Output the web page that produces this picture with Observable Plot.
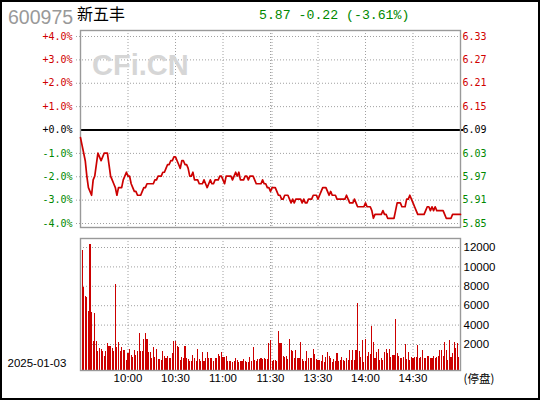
<!DOCTYPE html>
<html><head><meta charset="utf-8">
<script src="https://cdn.jsdelivr.net/npm/d3@7"></script>
<script src="https://cdn.jsdelivr.net/npm/@observablehq/plot@0.6"></script>
<style>
html,body{margin:0;padding:0;background:#fff;}
#wrap{position:relative;width:540px;height:400px;overflow:hidden;background:#fff;}
#wrap svg{position:absolute;left:0;background:transparent;}
.abs{position:absolute;white-space:nowrap;line-height:1;}
#border{position:absolute;left:0;top:0;width:540px;height:400px;box-sizing:border-box;border:2px solid #000;}
</style></head><body>
<div id="wrap"></div>
<script>
// ---------- data ----------
const stockCode = "600975";
const stockName = "新五丰";
const quoteText = "5.87 -0.22 (-3.61%)";
const tradeDate = "2025-01-03";
const statusText = "(停盘)";
const watermark = "CFi.CN";
const prevClose = 6.09;

const pctTicks = [4, 3, 2, 1, 0, -1, -2, -3, -4];
const pctLabels = ["+4.0%", "+3.0%", "+2.0%", "+1.0%", "+0.0%", "-1.0%", "-2.0%", "-3.0%", "-4.0%"];
const priceLabels = ["6.33", "6.27", "6.21", "6.15", "6.09", "6.03", "5.97", "5.91", "5.85"];

const timeTicks = [30, 60, 90, 120, 150, 180, 210];
const timeLabels = ["10:00", "10:30", "11:00", "11:30", "13:30", "14:00", "14:30"];

const volTicks = [2000, 4000, 6000, 8000, 10000, 12000];
const volLabels = ["2000", "4000", "6000", "8000", "10000", "12000"];

// minute prices, 9:30 .. 11:30, 13:01 .. 15:00
const price = [
6.07,6.05,6.03,6.01,5.97,5.94,5.93,5.92,5.96,5.97,
6.00,6.03,6.02,6.01,6.02,6.03,6.03,6.03,6.00,5.97,
5.96,5.95,5.94,5.92,5.94,5.94,5.94,5.96,5.97,5.98,
5.97,5.97,5.95,5.94,5.93,5.93,5.92,5.92,5.92,5.93,
5.94,5.94,5.95,5.95,5.95,5.95,5.95,5.96,5.96,5.97,
5.97,5.97,5.98,5.98,5.99,6.00,6.00,6.01,6.01,6.02,
6.02,6.01,6.00,5.99,6.01,6.01,6.00,6.00,5.99,5.97,
5.97,5.98,5.96,5.96,5.96,5.95,5.95,5.95,5.96,5.95,
5.94,5.95,5.96,5.95,5.95,5.96,5.96,5.96,5.97,5.97,
5.96,5.95,5.97,5.97,5.97,5.97,5.96,5.97,5.98,5.97,
5.98,5.96,5.96,5.96,5.97,5.97,5.96,5.97,5.97,5.97,
5.96,5.95,5.95,5.95,5.95,5.96,5.95,5.95,5.94,5.94,
5.93,
5.94,5.94,5.94,5.93,5.92,5.92,5.91,5.91,5.92,5.92,
5.92,5.91,5.90,5.91,5.90,5.91,5.91,5.91,5.91,5.90,
5.91,5.90,5.90,5.91,5.91,5.91,5.92,5.92,5.92,5.91,
5.92,5.93,5.94,5.94,5.94,5.93,5.92,5.93,5.92,5.92,
5.92,5.91,5.91,5.91,5.91,5.91,5.91,5.92,5.91,5.90,
5.90,5.90,5.91,5.90,5.89,5.89,5.89,5.89,5.89,5.90,
5.89,5.89,5.89,5.88,5.86,5.87,5.87,5.87,5.87,5.87,
5.88,5.87,5.87,5.86,5.86,5.86,5.86,5.86,5.88,5.90,
5.90,5.90,5.89,5.89,5.89,5.91,5.91,5.92,5.91,5.90,
5.89,5.88,5.87,5.87,5.87,5.87,5.87,5.88,5.89,5.89,
5.88,5.89,5.88,5.89,5.88,5.88,5.88,5.88,5.88,5.87,
5.86,5.86,5.86,5.86,5.87,5.87,5.87,5.87,5.87,5.87
];

const volumeAM = [
1650,11660,7870,6900,6830,5450,12280,5350,2350,5240,
2350,1240,1550,1480,1310,790,1310,2070,1830,1830,
1590,1240,8140,1730,2240,1310,1730,1410,1410,300,
1030,1480,900,620,1380,900,1310,3170,1240,1240,
2550,3170,2550,1200,1200,590,1660,690,1480,410,
410,345,1310,760,520,720,590,550,1070,2350,
2350,1800,1700,300,690,520,1790,550,450,250,
280,830,520,250,1520,480,250,1200,280,550,
1140,550,550,550,280,550,550,960,760,1140,
690,690,790,200,280,210,150,200,550,345,
150,210,200,450,200,150,150,690,200,1650,
345,200,450,410,550,450,550,450,450,2100,
2400
];
const volumePM = [
240,345,310,240,3350,2070,2070,790,690,790,
500,2520,1350,1280,590,1380,590,590,2240,450,
240,240,1280,590,590,590,1480,1000,450,310,
345,240,860,100,690,1170,790,590,170,450,
240,1035,240,310,655,380,240,520,380,
1380,380,1380,345,1380,6210,1280,690,2415,100,
2520,790,1140,930,3860,2240,590,1210,1480,345,
590,345,1140,1520,1035,1450,690,860,860,
4550,1035,790,520,590,690,1970,480,1140,380,
655,520,690,690,1900,590,690,1350,590,590,
725,760,590,590,790,590,620,790,1350,
1350,790,2240,1350,380,2415,655,1100,2170,1620,
2100,655,2240
];
const volume = volumeAM.concat(volumePM);

// ---------- layout / styles ----------
const RED = "#d00000", GREEN = "#008800", LINE = "#cc0000", GRID = "#a0a0a0";
const pctDomain = [-4.171, 4.257];
const volDomain = [-680, 12928];
const rows = price.map((p, i) => ({t: i, p, v: volume[i]}));
const tickColor = p => p > 0 ? RED : p < 0 ? GREEN : "#000";
const pToPrice = p => prevClose * (1 + p / 100);

const wrap = document.getElementById("wrap");

const pricePlot = Plot.plot({
  width: 540, height: 232,
  marginLeft: 80, marginRight: 80, marginTop: 30, marginBottom: 5,
  x: {domain: [0, 240], axis: null},
  y: {domain: pctDomain.map(pToPrice), axis: null},
  marks: [
    Plot.ruleY(pctTicks.filter(p => p !== 0), {y: pToPrice, stroke: GRID, strokeDasharray: "1,2", insetLeft: -4}),
    Plot.ruleX(timeTicks, {x: d => d, stroke: GRID, strokeDasharray: "1,2"}),
    Plot.ruleX([120], {x: d => d, dx: 1.5, stroke: GRID, strokeDasharray: "1,2"}),
    Plot.ruleY([prevClose], {y: d => d, stroke: "#000", strokeWidth: 2, insetRight: -3}),
    Plot.frame({stroke: "#999", strokeWidth: 1.4}),
    Plot.line(rows, {x: "t", y: "p", stroke: LINE, strokeWidth: 1.7}),
    Plot.text(pctTicks, {y: pToPrice, text: (d, i) => pctLabels[i], frameAnchor: "left", textAnchor: "end", dx: -8, fill: tickColor, fontFamily: "DejaVu Sans Mono", fontSize: 10}),
    Plot.text(pctTicks, {y: pToPrice, text: (d, i) => priceLabels[i], frameAnchor: "right", textAnchor: "start", dx: 2, fill: tickColor, fontFamily: "DejaVu Sans Mono", fontSize: 10})
  ]
});
pricePlot.style.top = "0px";
wrap.appendChild(pricePlot);

const volPlot = Plot.plot({
  width: 540, height: 168,
  marginLeft: 80, marginRight: 80, marginTop: 6, marginBottom: 30,
  x: {domain: [0, 240], axis: null},
  y: {domain: volDomain, axis: null},
  marks: [
    Plot.ruleY(volTicks, {y: d => d, stroke: GRID, strokeDasharray: "1,2"}),
    Plot.ruleX(timeTicks, {x: d => d, stroke: GRID, strokeDasharray: "1,2"}),
    Plot.ruleX([120], {x: d => d, dx: 1.5, stroke: GRID, strokeDasharray: "1,2"}),
    Plot.ruleX(rows, {x: "t", y1: volDomain[0], y2: "v", stroke: LINE, strokeWidth: 1.1, shapeRendering: "crispEdges"}),
    Plot.frame({stroke: "#999", strokeWidth: 1.4}),
    Plot.text(volTicks, {y: d => d, text: (d, i) => volLabels[i], frameAnchor: "right", textAnchor: "start", dx: 3, fill: "#000", fontFamily: "Liberation Sans", fontSize: 11.5}),
    Plot.text(timeTicks, {x: d => d, text: (d, i) => timeLabels[i], frameAnchor: "bottom", dy: 8, lineAnchor: "middle", fill: "#000", fontFamily: "Liberation Sans", fontSize: 11.5}),
    Plot.text([tradeDate], {text: d => d, frameAnchor: "bottom-left", textAnchor: "start", dx: -73, dy: -7, lineAnchor: "middle", fill: "#000", fontFamily: "Liberation Sans", fontSize: 11.5}),
    Plot.text([statusText], {text: d => d, frameAnchor: "bottom-right", textAnchor: "start", dx: 3, dy: 9, lineAnchor: "middle", fill: "#000", fontFamily: "Noto Sans CJK SC", fontSize: 11.5})
  ]
});
volPlot.style.top = "232px";
wrap.appendChild(volPlot);

// header texts
function addText(txt, css) {
  const d = document.createElement("div");
  d.className = "abs";
  d.textContent = txt;
  Object.assign(d.style, css);
  wrap.appendChild(d);
}
addText(stockCode, {left: "8px", top: "7.5px", fontFamily: "'Liberation Sans', Arial, sans-serif", fontSize: "19.5px", color: "#999"});
addText(stockName, {left: "77px", top: "5px", fontFamily: "'Noto Sans CJK SC', sans-serif", fontSize: "16px", color: "#000"});
addText(quoteText, {left: "259px", top: "9px", fontFamily: "'Liberation Mono', monospace", fontSize: "13.2px", color: GREEN});
addText(watermark, {left: "92px", top: "50.5px", fontFamily: "'Liberation Sans', Arial, sans-serif", fontWeight: "bold", fontSize: "29px", color: "#d6d6d6"});

const border = document.createElement("div");
border.id = "border";
wrap.appendChild(border);
</script>
</body></html>
